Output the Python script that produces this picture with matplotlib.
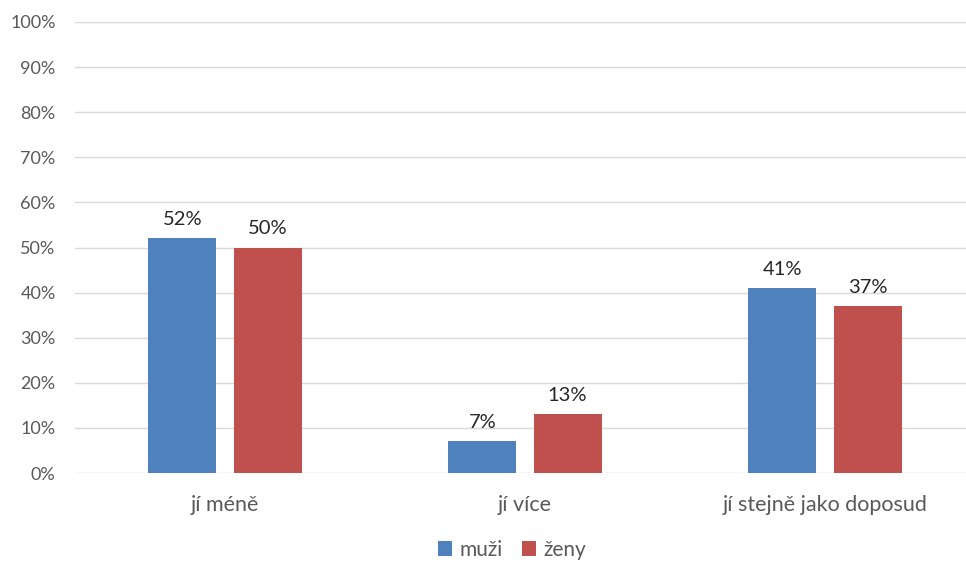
import matplotlib.pyplot as plt
import numpy as np

categories = ["jí méně", "jí více", "jí stejně jako doposud"]
muzi = [52, 7, 41]
zeny = [50, 13, 37]
series_names = ["muži", "ženy"]
yticks = [0, 10, 20, 30, 40, 50, 60, 70, 80, 90, 100]

plt.rcParams['font.family'] = ['Lato', 'DejaVu Sans']

fig = plt.figure(figsize=(9.66, 5.65), dpi=100)
ax = fig.add_axes([75 / 966, 92 / 565, 1 - 75 / 966, 451 / 565])

x = np.arange(len(categories))
w = 0.227
off = 0.142
b1 = ax.bar(x - off, muzi, w, color='#4F81BD', label=series_names[0], zorder=3)
b2 = ax.bar(x + off, zeny, w, color='#C0504D', label=series_names[1], zorder=3)

for bars, vals in ((b1, muzi), (b2, zeny)):
    for b, v in zip(bars, vals):
        ax.text(b.get_x() + b.get_width() / 2, v + 2.3, f"{v}%", ha='center',
                va='bottom', fontsize=14.5, color='#262626')

ax.set_ylim(0, 100)
ax.set_xlim(-0.5, 2.47)
ax.set_yticks(yticks)
ax.set_yticklabels([f"{t}%" for t in yticks])
ax.set_xticks(x)
ax.set_xticklabels(categories)
ax.yaxis.grid(True, color='#D9D9D9', linewidth=1, zorder=0)
ax.tick_params(axis='y', length=0, labelsize=13, labelcolor='#595959', pad=14)
ax.tick_params(axis='x', length=0, labelsize=15.5, labelcolor='#595959', pad=16)
for s in ax.spines.values():
    s.set_visible(False)

fig.legend(loc='center', bbox_to_anchor=(512 / 966, 15 / 565), ncol=2, frameon=False,
           fontsize=15, handlelength=0.7, handleheight=0.7, handletextpad=0.35,
           columnspacing=0.9, labelcolor='#595959')

fig.savefig("out.png", dpi=100)
